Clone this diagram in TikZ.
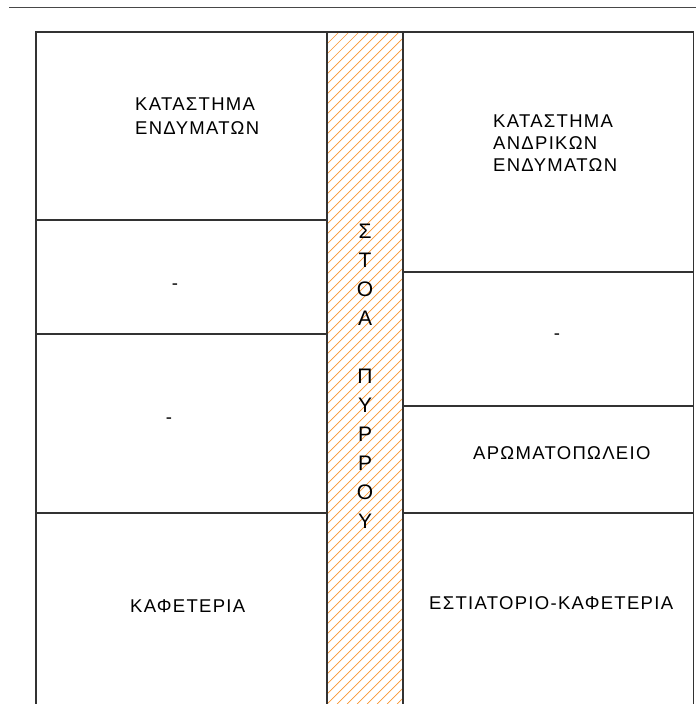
\documentclass[tikz,border=0pt]{standalone}
\usepackage{fontspec}
\setmainfont{Liberation Sans}
\newfontfamily\grsp[LetterSpace=7]{Liberation Sans}
\definecolor{hatch}{RGB}{250,150,50}
\definecolor{wall}{RGB}{50,50,50}
\begin{document}
\begin{tikzpicture}[x=1pt,y=-1pt,
  wallline/.style={draw=wall,line width=1.3pt},
  shoplabel/.style={inner sep=0pt,anchor=west,font=\grsp\fontsize{18.5}{24}\selectfont,align=left},
  dashlabel/.style={inner sep=0pt,font=\fontsize{18.5}{24}\selectfont},
  colletters/.style={inner sep=0pt,align=center,font=\fontsize{21}{29}\selectfont}]
\useasboundingbox (0,0) rectangle (696,704);
% top rule
\draw[draw=wall!90,line width=1.6pt] (9,7.5) -- (696,7.5);
% hatched arcade
\begin{scope}
  \clip (327,32) rectangle (403,704);
  \foreach \k in {-72,...,8} {
    \draw[hatch,line width=0.7pt] (327+10*\k,704) -- (327+10*\k+704,0);
  }
\end{scope}
% outlines
\draw[wallline] (36,704) -- (36,32) -- (693.7,32) -- (693.7,704);
\draw[wallline] (327,32) -- (327,704);
\draw[wallline] (403,32) -- (403,704);
% left divisions
\draw[wallline] (36,220) -- (327,220);
\draw[wallline] (36,334) -- (327,334);
\draw[wallline] (36,513) -- (327,513);
% right divisions
\draw[wallline] (403,272) -- (693.7,272);
\draw[wallline] (403,406) -- (693.7,406);
\draw[wallline] (403,513) -- (693.7,513);
% labels
\node[shoplabel,font=\grsp\fontsize{18.5}{24}\selectfont] (l1) at (135,116) {ΚΑΤΑΣΤΗΜΑ\\ΕΝΔΥΜΑΤΩΝ};
\node[dashlabel] (l2) at (175,287) {-};
\node[dashlabel] (l3) at (169,421) {-};
\node[shoplabel] (l4) at (130,606) {ΚΑΦΕΤΕΡΙΑ};
\node[shoplabel,font=\grsp\fontsize{18.5}{22}\selectfont] (r1) at (493,143) {ΚΑΤΑΣΤΗΜΑ\\ΑΝΔΡΙΚΩΝ\\ΕΝΔΥΜΑΤΩΝ};
\node[dashlabel] (r2) at (557,337) {-};
\node[shoplabel] (r3) at (473,453) {ΑΡΩΜΑΤΟΠΩΛΕΙΟ};
\node[shoplabel] (r4) at (429,603) {ΕΣΤΙΑΤΟΡΙΟ-ΚΑΦΕΤΕΡΙΑ};
\node[colletters] (stoa) at (365,376) {Σ\\Τ\\Ο\\Α\\\mbox{}\\Π\\Υ\\Ρ\\Ρ\\Ο\\Υ};
\end{tikzpicture}
\end{document}
